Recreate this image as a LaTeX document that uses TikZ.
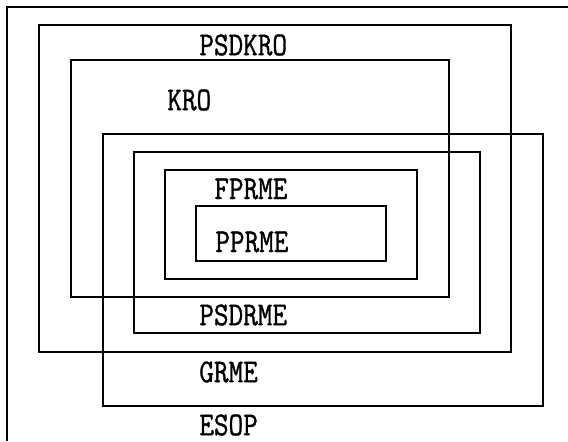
\documentclass[tikz,border=0pt]{standalone}
\usepackage{fontspec}
\newfontfamily\setfont[FakeStretch=0.85, FakeBold=1]{Latin Modern Mono}
\usetikzlibrary{positioning}

\begin{document}
\begin{tikzpicture}[x=0.02cm, y=-0.02cm,
                setbox/.style={draw=black, line width=1.1pt},
                setlbl/.style={anchor=west, inner sep=0pt,
                    font=\setfont\fontsize{19}{19}\selectfont}
            ]

            \useasboundingbox (0,0) rectangle (568,441);

            % frame
            \draw[setbox] (7,441) -- (7,7) -- (568,7);

            % sets
            \draw[setbox] (39,25) rectangle (511,352);
            \draw[setbox] (71,60) rectangle (449,297);
            \draw[setbox] (103,134) rectangle (543,406);
            \draw[setbox] (134,152) rectangle (480,333);
            \draw[setbox] (165,170) rectangle (417,279);
            \draw[setbox] (196,206) rectangle (386,261);

            % labels
            \node[setlbl] (psdkro) at (199,45) {PSDKRO};
            \node[setlbl] (kro) at (167,100) {KRO};
            \node[setlbl] (fprme) at (214,189) {FPRME};
            \node[setlbl] (pprme) at (215,242) {PPRME};
            \node[setlbl] (psdrme) at (199,315) {PSDRME};
            \node[setlbl] (grme) at (199,372) {GRME};
            \node[setlbl] (esop) at (199,425) {ESOP};

            \end{tikzpicture}
\end{document}
